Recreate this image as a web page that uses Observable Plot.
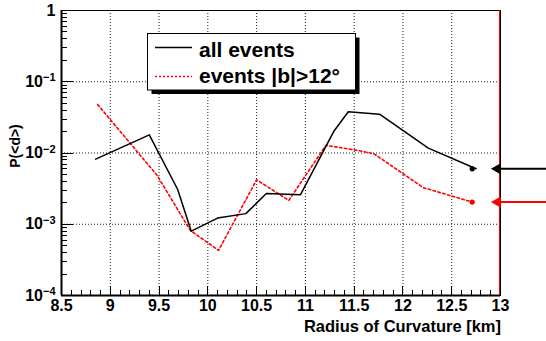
<!DOCTYPE html>
<html><head><meta charset="utf-8">
<script src="https://cdn.jsdelivr.net/npm/d3@7"></script>
<script src="https://cdn.jsdelivr.net/npm/@observablehq/plot@0.6"></script>
<style>
body{margin:0;background:#fff}
#chart{position:relative;width:546px;height:341px}
#ticks{position:absolute;left:0;top:0;pointer-events:none}
</style>
</head><body><div id="chart"></div>
<script>
// ---- data ----
const allX = [8.85, 9.40, 9.69, 9.83, 10.10, 10.39, 10.60, 10.95, 11.29, 11.44, 11.76, 12.26, 12.75];
const allY = [0.0082, 0.018, 0.0031, 0.0008, 0.00122, 0.00141, 0.0027, 0.0026, 0.020, 0.038, 0.035, 0.0117, 0.006];
const cutX = [8.87, 9.48, 9.82, 10.11, 10.50, 10.83, 11.21, 11.53, 11.70, 12.21, 12.71];
const cutY = [0.048, 0.00485, 0.00082, 0.00043, 0.0042, 0.00216, 0.0128, 0.0109, 0.0098, 0.00326, 0.00205];
const markerX = [12.71, 12.71];
const markerY = [0.006, 0.00205];
const markerColors = ["black", "red"];
const arrowHeadX = 12.969;
const arrowTailX = [13.0, 13.6];
const limitX = 13;
const legendLabels = ["all events", "events |b|>12°"];
const xMajor = [8.5, 9, 9.5, 10, 10.5, 11, 11.5, 12, 12.5, 13];
const xMinor = d3.range(85, 131).map(v => v / 10).filter(v => Math.abs(v * 2 - Math.round(v * 2)) > 1e-6);
const yMajor = [1e-4, 1e-3, 1e-2, 1e-1, 1];
const yMinor = [1e-4, 1e-3, 1e-2, 1e-1].flatMap(d => [2,3,4,5,6,7,8,9].map(m => d * m));
const xTitle = "Radius of Curvature [km]";
const yTitle = "P(<d>)";

const allData = allX.map((x, i) => ({x, y: allY[i]}));
const cutData = cutX.map((x, i) => ({x, y: cutY[i]}));
const markers = markerX.map((x, i) => ({x, y: markerY[i], c: markerColors[i]}));

const W = 546, H = 341, mL = 61, mR = 46, mT = 10, mB = 46;
const font = "'Liberation Sans', Arial, Helvetica, sans-serif";

const chart = Plot.plot({
  width: W, height: H,
  marginLeft: mL, marginRight: mR, marginTop: mT, marginBottom: mB,
  style: {fontFamily: font, fontWeight: "bold", background: "white", overflow: "visible"},
  x: {domain: [8.5, 13]},
  y: {type: "log", domain: [1e-4, 1]},
  color: {type: "identity"},
  marks: [
    Plot.gridX(xMajor.slice(1, -1), {stroke: "black", strokeOpacity: 0.9, strokeDasharray: "1,2"}),
    Plot.gridY(yMajor.slice(1, -1), {stroke: "black", strokeOpacity: 0.9, strokeDasharray: "1,2"}),
    Plot.frame({stroke: "black"}),
    Plot.ruleX([8.5], {strokeWidth: 2}),
    Plot.ruleY([1e-4], {strokeWidth: 2}),
    Plot.axisX(xMajor, {tickSize: 0, tickPadding: 4, fontSize: 16, label: null,
      tickFormat: d => String(d)}),
    Plot.axisY(yMajor, {tickSize: 0, tickPadding: 6, fontSize: 16, label: null,
      tickFormat: d => d === 1 ? "1" : "10^" + Math.round(Math.log10(d))}),
    Plot.ruleX([limitX], {stroke: "red", dx: -1}),
    Plot.line(cutData, {x: "x", y: "y", stroke: "red", strokeWidth: 1.6, strokeDasharray: "2.5,2.5"}),
    Plot.line(allData, {x: "x", y: "y", stroke: "black", strokeWidth: 1.5}),
    Plot.dot(markers, {x: "x", y: "y", fill: "c", r: 2.6}),
    Plot.link(markers, {x1: arrowTailX[0], x2: arrowTailX[1], y1: "y", y2: "y", stroke: "c", strokeWidth: 2}),
    Plot.dot(markers, {x: arrowHeadX, y: "y", fill: "c", symbol: "triangle", rotate: -90, r: 4.2})
  ]
});
const host = document.getElementById("chart");
host.appendChild(chart);

const svg = d3.select(chart);

// superscript exponents in y tick labels
svg.selectAll('g[aria-label="y-axis tick label"] text').each(function() {
  const t = this.textContent;
  if (t.includes("^")) {
    const [base, exp] = t.split("^");
    const el = d3.select(this);
    el.text("");
    el.append("tspan").text(base);
    el.append("tspan").attr("dy", "-0.5em").attr("font-size", 11).text(exp.replace("-", "\u2212"));
  }
});

// legend
const lg = svg.append("g").attr("font-family", font).attr("font-weight", "bold").attr("text-anchor", "start");
lg.append("rect").attr("x", 151.5).attr("y", 37.5).attr("width", 208).attr("height", 56.5).attr("fill", "black");
lg.append("rect").attr("x", 147.5).attr("y", 33.5).attr("width", 208).attr("height", 56.5).attr("fill", "white").attr("stroke", "black");
const legendStyles = [{stroke: "black", dash: null, y: 47.5, ty: 56.7}, {stroke: "red", dash: "2,2", y: 76.5, ty: 83.3}];
legendLabels.forEach((lab, i) => {
  const s = legendStyles[i];
  lg.append("line").attr("x1", 155).attr("x2", 192).attr("y1", s.y).attr("y2", s.y)
    .attr("stroke", s.stroke).attr("stroke-width", 1.3).attr("stroke-dasharray", s.dash);
  lg.append("text").attr("x", 199).attr("y", s.ty).attr("font-size", 21).attr("text-anchor", "start").text(lab);
});

// axis titles
svg.append("text").attr("x", 501).attr("y", 332).attr("text-anchor", "end")
  .attr("font-family", font).attr("font-weight", "bold").attr("font-size", 16.5).text(xTitle);
svg.append("text").attr("transform", "translate(20,146) rotate(-90)").attr("text-anchor", "middle")
  .attr("font-family", font).attr("font-weight", "bold").attr("font-size", 14).text(yTitle);

// inward axis ticks in an overlay, using scales with the same domain/range as the plot
const sx = d3.scaleLinear().domain([8.5, 13]).range([mL, W - mR]);
const sy = d3.scaleLog().domain([1e-4, 1]).range([H - mB, mT]);
const ov = d3.select(host).append("svg").attr("id", "ticks").attr("width", W).attr("height", H);
const tg = ov.append("g").attr("stroke", "#000").attr("stroke-width", 1).attr("fill", "none");
const y0 = sy(1e-4), x0 = sx(8.5);
const px = v => Math.round(v) + 0.5;
const seg = (x1, y1, x2, y2) => tg.append("line").attr("x1", x1).attr("y1", y1).attr("x2", x2).attr("y2", y2);
xMinor.forEach(v => { const x = px(sx(v)); seg(x, y0, x, y0 - 5); });
xMajor.forEach(v => { const x = px(sx(v)); seg(x, y0, x, y0 - 9); });
yMinor.forEach(v => { const y = px(sy(v)); seg(x0, y, x0 + 6, y); });
yMajor.forEach(v => { const y = px(sy(v)); seg(x0, y, x0 + 12, y); });
</script>
</body></html>
